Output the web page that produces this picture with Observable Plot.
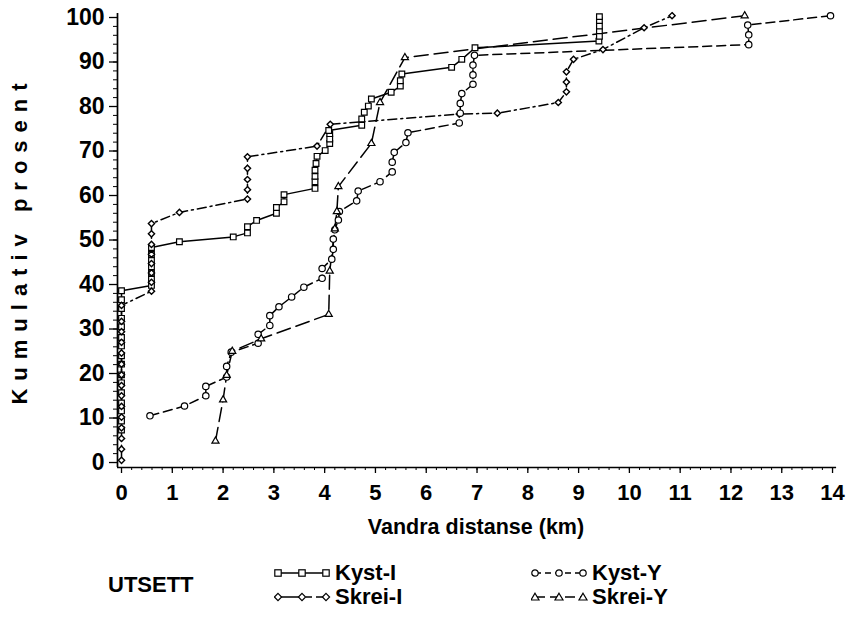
<!DOCTYPE html>
<html><head><meta charset="utf-8">
<script src="https://cdn.jsdelivr.net/npm/d3@7"></script>
<script src="https://cdn.jsdelivr.net/npm/@observablehq/plot@0.6"></script>
<style>
body{margin:0;background:#fff;font-family:"Liberation Sans",Arial,Helvetica,sans-serif;}
#chart{position:relative;width:853px;height:634px;overflow:hidden;background:#fff;}
.lg{position:absolute;font-weight:bold;font-size:22px;line-height:24px;color:#000;white-space:nowrap;}
.lg svg{position:absolute;}
</style></head><body><div id="chart"></div>
<script>
// ---- tick labels ----
const xTicks = [0,1,2,3,4,5,6,7,8,9,10,11,12,13,14];
const yTicks = [0,10,20,30,40,50,60,70,80,90,100];
const seriesNames = ["Kyst-I","Skrei-I","Kyst-Y","Skrei-Y"];

// ---- Kyst-I (squares, solid) ----
const kystIKm  = [0,0,0,0,0,0,0,0,0,0,0,0,0,0,0,0, 0.59,0.59,0.59,0.59,0.59,0.59,0.59, 1.14, 2.2, 2.48,2.48, 2.66, 3.05,3.05, 3.2,3.2, 3.81,3.81,3.81,3.81,3.83,3.85, 4.01, 4.1,4.1,4.1,4.08, 4.73,4.73, 4.78, 4.86, 4.92, 5.31, 5.49,5.49, 5.52, 6.5, 6.7, 6.96, 9.4, 9.41,9.41,9.41,9.41,9.41];
const kystIPct = [7.3,9.3,11.6,13.4,15.7,17.9,19.7,22.1,24.0,26.2,28.1,30.5,32.4,34.6,36.6,38.6, 39.8,41.2,42.6,44.0,45.4,46.8,48.3, 49.6, 50.7, 51.6,53.0, 54.4, 56.0,57.3, 58.6,60.2, 61.6,63.1,64.3,65.7,67.2,68.8, 70.1, 71.7,72.7,73.9,74.6, 75.8,77.2, 78.7, 80.1, 81.7, 83.2, 84.6,85.8, 87.3, 88.8, 90.6, 93.2, 94.7, 95.8,97.0,98.1,99.3,100.2];

// ---- Skrei-I (diamonds, dash-dot) ----
const skreiIKm  = [0,0,0,0,0,0,0,0,0,0,0,0,0,0,0, 0.59,0.59,0.59,0.59,0.59,0.59,0.59,0.59, 1.14, 2.48,2.48,2.48,2.48,2.48, 3.85, 4.11, 6.65, 7.4, 8.6, 8.76,8.76,8.76, 8.9, 9.48, 10.29, 10.84];
const skreiIPct = [0.5,3.0,5.4,7.8,10.2,12.6,15.0,17.3,19.7,22.1,24.6,27.0,29.4,31.7,35.3, 38.5,40.5,42.6,44.7,46.8,49.0,51.4,53.7, 56.2, 59.2,61.3,63.6,66.1,68.7, 71.1, 76.0, 78.3, 78.5, 80.9, 83.3,85.5,87.8, 90.6, 92.8, 97.7, 100.4];

// ---- Kyst-Y (circles, dashed) ----
const kystYKm  = [0.56, 1.24, 1.66,1.66, 2.07,2.07, 2.16, 2.69,2.69, 2.92,2.92, 3.1, 3.35, 3.59, 3.95,3.95, 4.14,4.17,4.17,4.2,4.27,4.29, 4.63,4.66, 5.09, 5.33,5.33, 5.37, 5.6, 5.64, 6.65, 6.67,6.67, 6.7, 6.92,6.92,6.92,6.95, 12.35,12.35,12.33, 13.96];
const kystYPct = [10.5, 12.7, 15.0,17.1, 19.2,21.6, 24.8, 26.8,28.8, 30.8,33.0, 35.0, 37.2, 39.4, 41.4,43.6, 45.7,47.9,50.2,52.3,54.5,56.4, 58.8,61.0, 63.1, 65.3,67.5, 69.7, 71.9, 74.1, 76.3, 78.5,80.7, 82.9, 85.0,87.1,89.3,91.5, 93.9,96.1,98.3, 100.4];

// ---- Skrei-Y (triangles, long dashes) ----
const skreiYKm  = [1.85, 2.0, 2.07, 2.18, 2.75, 4.08, 4.1, 4.2, 4.24, 4.27, 4.92, 5.09, 5.58, 12.27];
const skreiYPct = [4.8, 14.1, 19.6, 25.0, 27.8, 33.3, 43.0, 52.5, 56.4, 62.0, 71.7, 80.9, 91.0, 100.4];

const toRows = (name, xs, ps) => xs.map((x, i) => ({series: name, km: x, pct: ps[i]}));
const kystI = toRows(seriesNames[0], kystIKm, kystIPct);
const skreiI = toRows(seriesNames[1], skreiIKm, skreiIPct);
const kystY = toRows(seriesNames[2], kystYKm, kystYPct);
const skreiY = toRows(seriesNames[3], skreiYKm, skreiYPct);

const xMinor = d3.range(0, 14.001, 0.2);
const yMinor = d3.range(0, 100.001, 2);

const font = "'Liberation Sans', Arial, Helvetica, sans-serif";
const H = 548, W = 853;
const xDom = [-0.079, 14.08], yDom = [-1.12, 100.9];
const blank = () => "";

const svg = Plot.plot({
  width: W, height: H,
  marginLeft: 117, marginRight: 16.9, marginTop: 13, marginBottom: H - 467,
  x: {domain: xDom},
  y: {domain: yDom},
  style: {fontFamily: font, fontSize: "22px", fontWeight: "bold", background: "white", color: "black", overflow: "visible"},
  marks: [
    Plot.axisX({ticks: xMinor, tickSize: 3, tickFormat: blank, label: null, strokeWidth: 1}),
    Plot.axisX({ticks: xTicks, tickSize: 6, tickPadding: 11, label: null, strokeWidth: 1.3}),
    Plot.axisY({ticks: yMinor, tickSize: 4, tickFormat: blank, label: null, strokeWidth: 1}),
    Plot.axisY({ticks: yTicks, tickSize: 8, tickPadding: 5, label: null, strokeWidth: 1.3, fontSize: 23}),
    Plot.ruleY([yDom[0]], {x1: xDom[0], x2: xDom[1], stroke: "black", strokeWidth: 1.7}),
    Plot.ruleX([xDom[0]], {y1: yDom[0], y2: yDom[1], stroke: "black", strokeWidth: 1.7}),
    Plot.line(kystI, {x: "km", y: "pct", stroke: "black", strokeWidth: 1.5}),
    Plot.line(skreiI, {x: "km", y: "pct", stroke: "black", strokeWidth: 1.5, strokeDasharray: "9,4,2,4"}),
    Plot.line(kystY, {x: "km", y: "pct", stroke: "black", strokeWidth: 1.5, strokeDasharray: "9,5"}),
    Plot.line(skreiY, {x: "km", y: "pct", stroke: "black", strokeWidth: 1.5, strokeDasharray: "14,6"}),
    Plot.dot(kystI, {x: "km", y: "pct", symbol: "square", r: 3.2, fill: "white", stroke: "black", strokeWidth: 1.2}),
    Plot.dot(skreiI, {x: "km", y: "pct", symbol: "diamond2", r: 2.8, fill: "white", stroke: "black", strokeWidth: 1.4}),
    Plot.dot(kystY, {x: "km", y: "pct", symbol: "circle", r: 3.2, fill: "white", stroke: "black", strokeWidth: 1.2}),
    Plot.dot(skreiY, {x: "km", y: "pct", symbol: "triangle2", r: 3.4, fill: "white", stroke: "black", strokeWidth: 1.2})
  ]
});

const s = d3.select(svg);
s.append("text")
  .attr("transform", "translate(21,240) rotate(-90)")
  .attr("text-anchor", "middle").attr("dominant-baseline", "middle")
  .attr("font-size", 22).attr("font-weight", "bold").attr("letter-spacing", "8px")
  .attr("fill", "black")
  .text("Kumulativ prosent");
s.append("text")
  .attr("x", 476).attr("y", 528)
  .attr("text-anchor", "middle").attr("dominant-baseline", "middle")
  .attr("font-size", 21.5).attr("font-weight", "bold").attr("fill", "black")
  .text("Vandra distanse (km)");

const chart = document.getElementById("chart");
chart.appendChild(svg);

// ---- legend ----
function sym(kind, cx, cy) {
  if (kind === "square") return `<rect x="${cx-3.2}" y="${cy-3.2}" width="6.4" height="6.4" fill="white" stroke="black" stroke-width="1.2"/>`;
  if (kind === "circle") return `<circle cx="${cx}" cy="${cy}" r="3.2" fill="white" stroke="black" stroke-width="1.2"/>`;
  if (kind === "diamond") return `<path d="M${cx},${cy-3.6}L${cx+3.6},${cy}L${cx},${cy+3.6}L${cx-3.6},${cy}Z" fill="white" stroke="black" stroke-width="1.2"/>`;
  return `<path d="M${cx},${cy-3.8}L${cx+4},${cy+3}L${cx-4},${cy+3}Z" fill="white" stroke="black" stroke-width="1.2"/>`;
}
function legendItem(label, kind, dash, x, yc) {
  const d = document.createElement("div");
  d.className = "lg";
  d.style.left = x + "px"; d.style.top = (yc - 12) + "px";
  d.innerHTML = `<svg width="58" height="14" style="left:0;top:5px">
      <line x1="4" y1="7" x2="52" y2="7" stroke="black" stroke-width="1.4" stroke-dasharray="${dash}"/>
      ${sym(kind, 4, 7)}${sym(kind, 28, 7)}${sym(kind, 52, 7)}</svg>
      <span style="position:absolute;left:61px;top:0">${label}</span>`;
  chart.appendChild(d);
}
const head = document.createElement("div");
head.className = "lg"; head.style.left = "108px"; head.style.top = (585 - 12) + "px";
head.textContent = "UTSETT";
chart.appendChild(head);
legendItem(seriesNames[0], "square", "none", 274, 573);
legendItem(seriesNames[1], "diamond", "24,4,6,4", 274, 597);
legendItem(seriesNames[2], "circle", "6,4", 531, 573);
legendItem(seriesNames[3], "triangle", "10,5", 531, 597);
</script>
</body></html>
